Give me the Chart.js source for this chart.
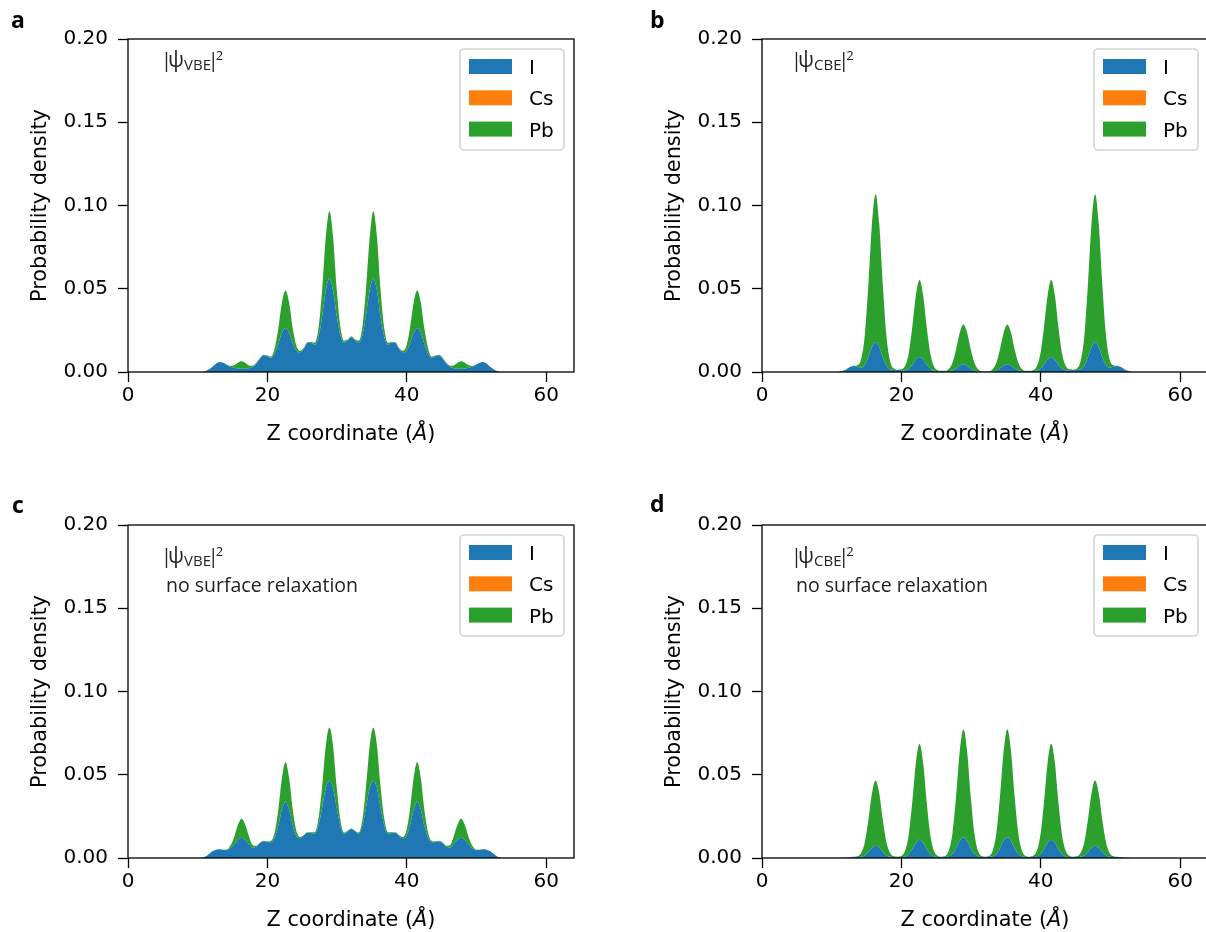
<!DOCTYPE html>
<html>
<head>
<meta charset="utf-8">
<script src="https://cdn.jsdelivr.net/npm/chart.js@4.4.1/dist/chart.umd.min.js"></script>
<style>
  html, body { margin: 0; padding: 0; background: #fff; width: 1206px; height: 932px; overflow: hidden; }
  canvas { position: absolute; }
</style>
</head>
<body>
<canvas id="panelA" width="600" height="466" style="left:0px;top:0px"></canvas>
<canvas id="panelB" width="600" height="466" style="left:634px;top:0px"></canvas>
<canvas id="panelC" width="600" height="466" style="left:0px;top:486px"></canvas>
<canvas id="panelD" width="600" height="466" style="left:634px;top:486px"></canvas>
<script>
// z grid (Å) shared by all four panels
const zGrid = [10.00, 10.53, 11.05, 11.58, 12.10, 12.63, 13.15, 13.68, 14.20, 14.73,
  15.25, 15.78, 16.30, 16.83, 17.35, 17.88, 18.40, 18.93, 19.45, 19.98,
  20.50, 21.03, 21.55, 22.08, 22.60, 23.13, 23.65, 24.18, 24.70, 25.23,
  25.75, 26.28, 26.80, 27.33, 27.85, 28.38, 28.90, 29.43, 29.95, 30.48,
  31.00, 31.53, 32.05, 32.58, 33.10, 33.63, 34.15, 34.68, 35.20, 35.73,
  36.25, 36.78, 37.30, 37.83, 38.35, 38.88, 39.40, 39.93, 40.45, 40.98,
  41.50, 42.03, 42.55, 43.08, 43.60, 44.13, 44.65, 45.18, 45.70, 46.23,
  46.75, 47.28, 47.80, 48.33, 48.85, 49.38, 49.90, 50.43, 50.95, 51.48,
  52.00, 52.53, 53.05, 53.58, 54.10]

// Cs contribution is not visible in any panel
const cesium = [0, 0, 0, 0, 0, 0, 0, 0, 0, 0, 0, 0, 0, 0, 0, 0, 0, 0, 0, 0,
  0, 0, 0, 0, 0, 0, 0, 0, 0, 0, 0, 0, 0, 0, 0, 0, 0, 0, 0, 0,
  0, 0, 0, 0, 0, 0, 0, 0, 0, 0, 0, 0, 0, 0, 0, 0, 0, 0, 0, 0,
  0, 0, 0, 0, 0, 0, 0, 0, 0, 0, 0, 0, 0, 0, 0, 0, 0, 0, 0, 0,
  0, 0, 0, 0, 0]

// a: VBE
const iodineA = [0, 0, 0.0004, 0.0015, 0.0030, 0.0050, 0.0060, 0.0055, 0.0042, 0.0031,
  0.0025, 0.0021, 0.0020, 0.0020, 0.0022, 0.0030, 0.0050, 0.0080, 0.0100, 0.0095,
  0.0085, 0.0110, 0.0165, 0.0235, 0.0265, 0.0235, 0.0170, 0.0125, 0.0118, 0.0140,
  0.0175, 0.0175, 0.0162, 0.0210, 0.0330, 0.0490, 0.0562, 0.0490, 0.0340, 0.0220,
  0.0175, 0.0190, 0.0210,
  0.0190, 0.0175, 0.0220, 0.0340, 0.0490, 0.0562, 0.0490, 0.0330, 0.0210, 0.0162,
  0.0175, 0.0175, 0.0140, 0.0118, 0.0125, 0.0170, 0.0235, 0.0265, 0.0235, 0.0165,
  0.0110, 0.0085, 0.0095, 0.0100, 0.0080, 0.0050, 0.0030, 0.0022, 0.0020, 0.0020,
  0.0021, 0.0025, 0.0031, 0.0042, 0.0055, 0.0060, 0.0050, 0.0030, 0.0015, 0.0004,
  0, 0]
const leadA = [0, 0, 0, 0, 0, 0, 0, 0, 0.0001, 0.0005,
  0.0017, 0.0035, 0.0044, 0.0035, 0.0017, 0.0008, 0.0005, 0.0004, 0.0004, 0.0004,
  0.0007, 0.0030, 0.0090, 0.0180, 0.0225, 0.0180, 0.0090, 0.0030, 0.0009, 0.0005,
  0.0004, 0.0005, 0.0013, 0.0051, 0.0158, 0.0319, 0.0404, 0.0319, 0.0158, 0.0051,
  0.0013, 0.0005, 0.0004,
  0.0005, 0.0013, 0.0051, 0.0158, 0.0319, 0.0404, 0.0319, 0.0158, 0.0051, 0.0013,
  0.0005, 0.0004, 0.0005, 0.0009, 0.0030, 0.0090, 0.0180, 0.0225, 0.0180, 0.0090,
  0.0030, 0.0007, 0.0004, 0.0004, 0.0004, 0.0005, 0.0008, 0.0017, 0.0035, 0.0044,
  0.0035, 0.0017, 0.0005, 0.0001, 0, 0, 0, 0, 0, 0,
  0, 0]

// b: CBE
const iodineB = [0, 0, 0.0002, 0.0007, 0.0017, 0.0030, 0.0036, 0.0032, 0.0027, 0.0041,
  0.0088, 0.0150, 0.0180, 0.0150, 0.0087, 0.0036, 0.0016, 0.0012, 0.0012, 0.0011,
  0.0010, 0.0019, 0.0043, 0.0075, 0.0090, 0.0075, 0.0043, 0.0018, 0.0007, 0.0006,
  0.0006, 0.0005, 0.0005, 0.0010, 0.0022, 0.0038, 0.0046, 0.0038, 0.0022, 0.0009,
  0.0003, 0.0002, 0.0002,
  0.0002, 0.0003, 0.0009, 0.0022, 0.0038, 0.0046, 0.0038, 0.0022, 0.0010, 0.0005,
  0.0005, 0.0006, 0.0006, 0.0007, 0.0018, 0.0043, 0.0075, 0.0090, 0.0075, 0.0043,
  0.0019, 0.0010, 0.0011, 0.0012, 0.0012, 0.0016, 0.0036, 0.0087, 0.0150, 0.0180,
  0.0150, 0.0088, 0.0041, 0.0027, 0.0032, 0.0036, 0.0030, 0.0017, 0.0007, 0.0002,
  0, 0]
const leadB = [0, 0, 0, 0, 0, 0, 0.0001, 0.0009, 0.0047, 0.0170,
  0.0426, 0.0739, 0.0888, 0.0739, 0.0426, 0.0170, 0.0047, 0.0009, 0.0002, 0.0005,
  0.0024, 0.0088, 0.0222, 0.0384, 0.0462, 0.0384, 0.0222, 0.0088, 0.0024, 0.0005,
  0.0001, 0.0002, 0.0013, 0.0046, 0.0115, 0.0199, 0.0239, 0.0199, 0.0115, 0.0046,
  0.0013, 0.0002, 0.0001,
  0.0002, 0.0013, 0.0046, 0.0115, 0.0199, 0.0239, 0.0199, 0.0115, 0.0046, 0.0013,
  0.0002, 0.0001, 0.0005, 0.0024, 0.0088, 0.0222, 0.0384, 0.0462, 0.0384, 0.0222,
  0.0088, 0.0024, 0.0005, 0.0002, 0.0009, 0.0047, 0.0170, 0.0426, 0.0739, 0.0888,
  0.0739, 0.0426, 0.0170, 0.0047, 0.0009, 0.0001, 0, 0, 0, 0,
  0, 0]

// c: VBE, no surface relaxation
const iodineC = [0, 0.0001, 0.0007, 0.0022, 0.0040, 0.0050, 0.0052, 0.0049, 0.0046, 0.0060,
  0.0082, 0.0109, 0.0122, 0.0110, 0.0085, 0.0062, 0.0068, 0.0088, 0.0100, 0.0096,
  0.0094, 0.0120, 0.0190, 0.0290, 0.0340, 0.0290, 0.0195, 0.0130, 0.0118, 0.0135,
  0.0152, 0.0150, 0.0145, 0.0195, 0.0300, 0.0420, 0.0464, 0.0420, 0.0300, 0.0190,
  0.0143, 0.0160, 0.0174,
  0.0160, 0.0143, 0.0190, 0.0300, 0.0420, 0.0464, 0.0420, 0.0300, 0.0195, 0.0145,
  0.0150, 0.0152, 0.0135, 0.0118, 0.0130, 0.0195, 0.0290, 0.0340, 0.0290, 0.0190,
  0.0120, 0.0094, 0.0096, 0.0100, 0.0088, 0.0068, 0.0062, 0.0085, 0.0110, 0.0122,
  0.0109, 0.0082, 0.0060, 0.0046, 0.0049, 0.0052, 0.0050, 0.0040, 0.0022, 0.0007,
  0.0001, 0]
const leadC = [0, 0, 0, 0, 0, 0, 0, 0.0001, 0.0005, 0.0016,
  0.0046, 0.0090, 0.0114, 0.0090, 0.0046, 0.0016, 0.0005, 0.0003, 0.0003, 0.0003,
  0.0008, 0.0030, 0.0093, 0.0187, 0.0237, 0.0187, 0.0093, 0.0030, 0.0008, 0.0003,
  0.0003, 0.0004, 0.0010, 0.0040, 0.0125, 0.0253, 0.0320, 0.0253, 0.0125, 0.0040,
  0.0010, 0.0004, 0.0003,
  0.0004, 0.0010, 0.0040, 0.0125, 0.0253, 0.0320, 0.0253, 0.0125, 0.0040, 0.0010,
  0.0004, 0.0003, 0.0003, 0.0008, 0.0030, 0.0093, 0.0187, 0.0237, 0.0187, 0.0093,
  0.0030, 0.0008, 0.0003, 0.0003, 0.0003, 0.0005, 0.0016, 0.0046, 0.0090, 0.0114,
  0.0090, 0.0046, 0.0016, 0.0005, 0.0001, 0, 0, 0, 0, 0,
  0, 0]

// d: CBE, no surface relaxation
const iodineD = [0, 0, 0, 0.0001, 0.0003, 0.0005, 0.0006, 0.0006, 0.0007, 0.0015,
  0.0036, 0.0062, 0.0074, 0.0062, 0.0036, 0.0015, 0.0007, 0.0006, 0.0006, 0.0006,
  0.0009, 0.0022, 0.0053, 0.0092, 0.0110, 0.0092, 0.0053, 0.0022, 0.0009, 0.0006,
  0.0006, 0.0006, 0.0010, 0.0025, 0.0060, 0.0104, 0.0125, 0.0104, 0.0060, 0.0025,
  0.0010, 0.0006, 0.0006,
  0.0006, 0.0010, 0.0025, 0.0060, 0.0104, 0.0125, 0.0104, 0.0060, 0.0025, 0.0010,
  0.0006, 0.0006, 0.0006, 0.0009, 0.0022, 0.0053, 0.0092, 0.0110, 0.0092, 0.0053,
  0.0022, 0.0009, 0.0006, 0.0006, 0.0006, 0.0007, 0.0015, 0.0036, 0.0062, 0.0074,
  0.0062, 0.0036, 0.0015, 0.0007, 0.0006, 0.0006, 0.0005, 0.0003, 0.0001, 0,
  0, 0]
const leadD = [0, 0, 0, 0, 0, 0, 0.0001, 0.0004, 0.0021, 0.0075,
  0.0188, 0.0326, 0.0392, 0.0326, 0.0188, 0.0075, 0.0021, 0.0004, 0.0002, 0.0006,
  0.0031, 0.0110, 0.0276, 0.0479, 0.0576, 0.0479, 0.0276, 0.0110, 0.0031, 0.0006,
  0.0002, 0.0006, 0.0034, 0.0124, 0.0311, 0.0539, 0.0648, 0.0539, 0.0311, 0.0124,
  0.0034, 0.0006, 0.0002,
  0.0006, 0.0034, 0.0124, 0.0311, 0.0539, 0.0648, 0.0539, 0.0311, 0.0124, 0.0034,
  0.0006, 0.0002, 0.0006, 0.0031, 0.0110, 0.0276, 0.0479, 0.0576, 0.0479, 0.0276,
  0.0110, 0.0031, 0.0006, 0.0002, 0.0004, 0.0021, 0.0075, 0.0188, 0.0326, 0.0392,
  0.0326, 0.0188, 0.0075, 0.0021, 0.0004, 0.0001, 0, 0, 0, 0,
  0, 0]

const speciesLabels = ['I', 'Cs', 'Pb']
const speciesColors = ['#1f77b4', '#ff7f0e', '#2ca02c']
const xTicks = [0, 20, 40, 60]

Chart.defaults.font.family = '"DejaVu Sans"'
Chart.defaults.font.size = 20
Chart.defaults.color = '#000'

// put a glyph run so that its ink starts at x
function inkText(ctx, txt, x, y) {
  const m = ctx.measureText(txt)
  ctx.fillText(txt, x + m.actualBoundingBoxLeft, y)
  return m.actualBoundingBoxLeft + m.actualBoundingBoxRight
}

// frame, axis titles, legend, panel letter and state label
const panelDeco = {
  id: 'panelDeco',
  afterDraw(chart, args, o) {
    const { ctx, chartArea: ca } = chart
    ctx.save()
    ctx.strokeStyle = '#000'
    ctx.lineWidth = 1.3
    ctx.strokeRect(ca.left, ca.top, ca.right - ca.left, ca.bottom - ca.top)

    ctx.fillStyle = '#000'
    ctx.font = '20.8px "DejaVu Sans"'
    ctx.save()
    ctx.translate(41, (ca.top + ca.bottom) / 2)
    ctx.rotate(-Math.PI / 2)
    ctx.textAlign = 'center'
    ctx.textBaseline = 'middle'
    ctx.fillText('Probability density', 0, 0)
    ctx.restore()

    // x title with italic Å
    const parts = [['Z coordinate (', '20.8px "DejaVu Sans"'], ['Å', 'oblique 20.8px "DejaVu Sans"'], [')', '20.8px "DejaVu Sans"']]
    let total = 0
    parts.forEach(p => { ctx.font = p[1]; total += ctx.measureText(p[0]).width })
    let tx = (ca.left + ca.right) / 2 - total / 2
    ctx.textBaseline = 'alphabetic'
    parts.forEach(p => { ctx.font = p[1]; ctx.fillText(p[0], tx, 440); tx += ctx.measureText(p[0]).width })

    // legend
    ctx.beginPath()
    ctx.roundRect(460, 49, 104, 101, 4)
    ctx.fillStyle = 'rgba(255,255,255,0.8)'
    ctx.fill()
    ctx.strokeStyle = '#d3d3d3'
    ctx.lineWidth = 1.6
    ctx.stroke()
    speciesLabels.forEach((lab, k) => {
      ctx.fillStyle = speciesColors[k]
      ctx.fillRect(469, 59 + k * 31.3, 43, 15)
      ctx.fillStyle = '#000'
      ctx.font = '20px "DejaVu Sans"'
      ctx.fillText(lab, 529, 74 + k * 31.3)
    })

    // panel letter
    ctx.font = 'bold 23px "Open Sans"'
    ctx.fillText(o.letter, o.letterX, o.letterY)

    // |ψ_state|^2 label
    ctx.fillStyle = '#222'
    const x0 = o.labelX
    const yb = o.labelY
    ctx.font = '20px "Open Sans"'
    inkText(ctx, '|', x0, yb)
    ctx.font = '21px "Open Sans"'
    const psiW = inkText(ctx, 'ψ', x0 + 4, yb)
    ctx.font = '15px "Open Sans"'
    const subW = inkText(ctx, o.state, x0 + 5 + psiW, yb + 3)
    const xb = x0 + 6 + psiW + subW
    ctx.font = '20px "Open Sans"'
    inkText(ctx, '|', xb, yb)
    ctx.font = '13px "Open Sans"'
    inkText(ctx, '2', xb + 4, yb - 7)
    if (o.note) {
      ctx.font = '19.5px "Open Sans"'
      ctx.fillText(o.note, x0 + 1, yb + 29)
    }
    ctx.restore()
  }
}

function makePanel(id, iodine, lead, deco) {
  const pts = vals => zGrid.map((z, i) => ({ x: z, y: vals[i] }))
  const series = [iodine, cesium, lead]
  const tickGrid = { drawOnChartArea: false, drawTicks: true, tickLength: 10, tickColor: '#000', tickWidth: 1.3 }
  return new Chart(document.getElementById(id), {
    type: 'line',
    data: {
      datasets: series.map((vals, k) => ({
        label: speciesLabels[k],
        data: pts(vals),
        backgroundColor: speciesColors[k],
        borderColor: speciesColors[k],
        borderWidth: 0,
        pointRadius: 0,
        fill: k === 0 ? 'origin' : '-1',
        cubicInterpolationMode: 'monotone'
      }))
    },
    options: {
      responsive: false,
      animation: false,
      devicePixelRatio: 1,
      layout: { padding: { left: 0, top: 39, right: 26, bottom: 0 } },
      plugins: { legend: { display: false }, tooltip: { enabled: false }, panelDeco: deco },
      scales: {
        x: {
          type: 'linear', min: 0, max: 64,
          afterFit: s => { s.height = 94 },
          afterBuildTicks: s => { s.ticks = xTicks.map(v => ({ value: v })) },
          ticks: { padding: 2, maxRotation: 0 },
          grid: tickGrid,
          border: { display: false }
        },
        y: {
          stacked: true, min: 0, max: 0.2,
          afterFit: s => { s.width = 128 },
          ticks: { stepSize: 0.05, padding: 10, callback: v => v.toFixed(2) },
          grid: tickGrid,
          border: { display: false }
        }
      }
    },
    plugins: [panelDeco]
  })
}

document.addEventListener('DOMContentLoaded', () => {
  makePanel('panelA', iodineA, leadA, { letter: 'a', letterX: 11, letterY: 28, state: 'VBE', labelX: 165, labelY: 67 })
  makePanel('panelB', iodineB, leadB, { letter: 'b', letterX: 16, letterY: 28, state: 'CBE', labelX: 161, labelY: 67 })
  makePanel('panelC', iodineC, leadC, { letter: 'c', letterX: 12, letterY: 27, state: 'VBE', labelX: 165, labelY: 77, note: 'no surface relaxation' })
  makePanel('panelD', iodineD, leadD, { letter: 'd', letterX: 16, letterY: 26, state: 'CBE', labelX: 161, labelY: 77, note: 'no surface relaxation' })
})
</script>
</body>
</html>
